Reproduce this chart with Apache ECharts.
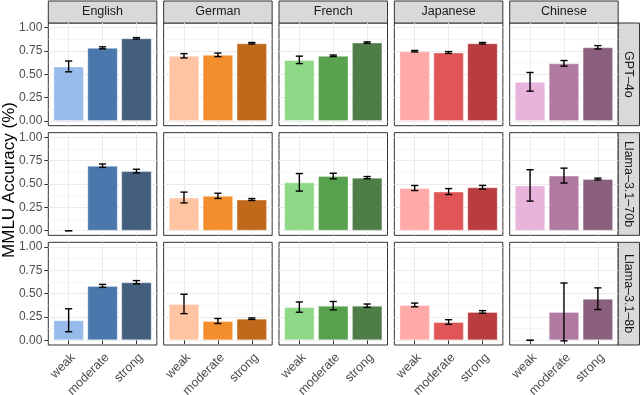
<!DOCTYPE html>
<html><head><meta charset="utf-8">
<script src="https://cdn.jsdelivr.net/npm/echarts@6/dist/echarts.min.js"></script>
<style>html,body{margin:0;padding:0;background:#fff}#c{width:640px;height:395px}</style>
</head><body><div id="c"></div>
<script>
// ---------- data ----------
const languages = ['English', 'German', 'French', 'Japanese', 'Chinese'];
const models = ['GPT–4o', 'Llama–3.1–70b', 'Llama–3.1–8b'];
const strengths = ['weak', 'moderate', 'strong'];
const yTicks = [0, 0.25, 0.5, 0.75, 1];
const yMinorTicks = [0.125, 0.375, 0.625, 0.875];

// mean accuracy per language (rows) and strength (weak, moderate, strong)
const gpt4oMean = [[0.585, 0.784, 0.886], [0.699, 0.709, 0.833], [0.655, 0.699, 0.840], [0.748, 0.734, 0.833], [0.420, 0.618, 0.790]];
const gpt4oErr  = [[0.058, 0.011, 0.008], [0.023, 0.019, 0.008], [0.040, 0.008, 0.008], [0.008, 0.010, 0.008], [0.100, 0.030, 0.018]];
const llama70Mean = [[0.000, 0.696, 0.638], [0.355, 0.373, 0.334], [0.518, 0.585, 0.568], [0.457, 0.419, 0.465], [0.485, 0.590, 0.553]];
const llama70Err  = [[0.000, 0.018, 0.020], [0.058, 0.028, 0.010], [0.094, 0.030, 0.012], [0.027, 0.032, 0.020], [0.168, 0.080, 0.010]];
const llama8Mean = [[0.215, 0.583, 0.622], [0.390, 0.207, 0.232], [0.356, 0.371, 0.371], [0.379, 0.196, 0.304], [0.000, 0.304, 0.446]];
const llama8Err  = [[0.123, 0.016, 0.018], [0.104, 0.027, 0.008], [0.055, 0.045, 0.018], [0.020, 0.025, 0.014], [0.000, 0.310, 0.116]];

const means = [gpt4oMean, llama70Mean, llama8Mean];
const errs = [gpt4oErr, llama70Err, llama8Err];

// ---------- style ----------
const palette = [
  ['#97BBEA', '#4A78AC', '#445E7E'],
  ['#FFC4A2', '#F28E2B', '#C0691B'],
  ['#8FD888', '#58A24F', '#4E7D47'],
  ['#FFA9A9', '#E05657', '#B93D3E'],
  ['#E9B4DC', '#B07AA1', '#8A607E']
];
const FONT = 'Liberation Sans, Arial, Helvetica, sans-serif';
const L0 = 48.3, STEPX = 115.35, PW = 108.5, T0 = 23, STEPY = 109.65, PH = 102.7;

const grids = [], xAxes = [], yAxes = [], series = [], graphics = [];

for (let r = 0; r < models.length; r++) {
  for (let c = 0; c < languages.length; c++) {
    const idx = r * languages.length + c;
    grids.push({
      left: L0 + c * STEPX, top: T0 + r * STEPY, width: PW, height: PH,
      show: true, backgroundColor: '#fff', borderColor: '#333', borderWidth: 1,
      containLabel: false, outerBoundsMode: 'none'
    });
    xAxes.push({
      type: 'value', gridIndex: idx, min: 0.4, max: 3.6,
      axisLine: { show: false },
      axisTick: { show: r === models.length - 1, customValues: [1, 2, 3], length: 4, lineStyle: { color: '#333', width: 1 } },
      axisLabel: {
        show: r === models.length - 1, customValues: [1, 2, 3],
        formatter: v => strengths[Math.round(v) - 1],
        rotate: 45, margin: 6, align: 'right', verticalAlign: 'top',
        color: '#4D4D4D', fontSize: 12.5, fontFamily: FONT
      },
      splitLine: { show: true, lineStyle: { color: '#EBEBEB', width: 1 } }
    });
    yAxes.push({
      type: 'value', gridIndex: idx, min: -0.05, max: 1.05,
      axisLine: { show: false },
      axisTick: { show: c === 0, customValues: yTicks, length: 4, lineStyle: { color: '#333', width: 1 } },
      axisLabel: {
        show: c === 0, customValues: yTicks, formatter: v => v.toFixed(2),
        margin: 6, color: '#4D4D4D', fontSize: 12, fontFamily: FONT
      },
      splitLine: { show: true, lineStyle: { color: '#EBEBEB', width: 1 } }
    });
    yAxes.push({
      type: 'value', gridIndex: idx, min: -0.05, max: 1.05, position: 'left',
      axisLine: { show: false },
      axisTick: { show: false, customValues: yMinorTicks },
      axisLabel: { show: false, customValues: yMinorTicks },
      splitLine: { show: true, lineStyle: { color: '#F0F0F0', width: 0.6 } }
    });
    series.push({
      type: 'bar', xAxisIndex: idx, yAxisIndex: idx * 2, barWidth: 30.5, silent: true,
      itemStyle: { borderColor: 'rgba(255,255,255,0.35)', borderWidth: 1 },
      data: strengths.map((s, i) => ({ value: [i + 1, means[r][c][i]], itemStyle: { color: palette[c][i] } }))
    });
    series.push({
      type: 'custom', xAxisIndex: idx, yAxisIndex: idx * 2, silent: true, z: 5,
      encode: { x: 0, y: [1, 2] },
      data: strengths.map((s, i) => [i + 1, means[r][c][i] - errs[r][c][i], means[r][c][i] + errs[r][c][i]]),
      renderItem: (params, api) => {
        const x = api.value(0);
        const lo = api.coord([x, api.value(1)]);
        const hi = api.coord([x, api.value(2)]);
        const hw = 3.6;
        const st = { stroke: '#000', lineWidth: 1.4 };
        return {
          type: 'group', children: [
            { type: 'line', shape: { x1: hi[0], y1: hi[1], x2: lo[0], y2: lo[1] }, style: st },
            { type: 'line', shape: { x1: hi[0] - hw, y1: hi[1], x2: hi[0] + hw, y2: hi[1] }, style: st },
            { type: 'line', shape: { x1: lo[0] - hw, y1: lo[1], x2: lo[0] + hw, y2: lo[1] }, style: st }
          ]
        };
      }
    });
  }
}

// facet strips
for (let c = 0; c < languages.length; c++) {
  const x = L0 + c * STEPX;
  graphics.push({ type: 'rect', shape: { x: x, y: 1, width: PW, height: T0 - 1 }, style: { fill: '#D9D9D9', stroke: '#333', lineWidth: 1 }, silent: true });
  graphics.push({ type: 'text', x: x + PW / 2, y: 12, style: { text: languages[c], fill: '#1A1A1A', font: '12.5px ' + FONT, align: 'center', verticalAlign: 'middle' }, silent: true });
}
const SX = L0 + 4 * STEPX + PW;
for (let r = 0; r < models.length; r++) {
  const y = T0 + r * STEPY;
  graphics.push({ type: 'rect', shape: { x: SX, y: y, width: 639.5 - SX, height: PH }, style: { fill: '#D9D9D9', stroke: '#333', lineWidth: 1 }, silent: true });
  graphics.push({ type: 'text', x: (SX + 639.5) / 2, y: y + PH / 2, rotation: -Math.PI / 2, style: { text: models[r], fill: '#1A1A1A', font: '12.5px ' + FONT, align: 'center', verticalAlign: 'middle' }, silent: true });
}
graphics.push({ type: 'text', x: 9, y: 180, rotation: Math.PI / 2, style: { text: 'MMLU Accuracy (%)', fill: '#000', font: '17px ' + FONT, align: 'center', verticalAlign: 'middle' }, silent: true });

const chart = echarts.init(document.getElementById('c'), null, { renderer: 'canvas' });
chart.setOption({
  animation: false,
  backgroundColor: '#fff',
  grid: grids, xAxis: xAxes, yAxis: yAxes, series: series,
  graphic: graphics
});
</script></body></html>
